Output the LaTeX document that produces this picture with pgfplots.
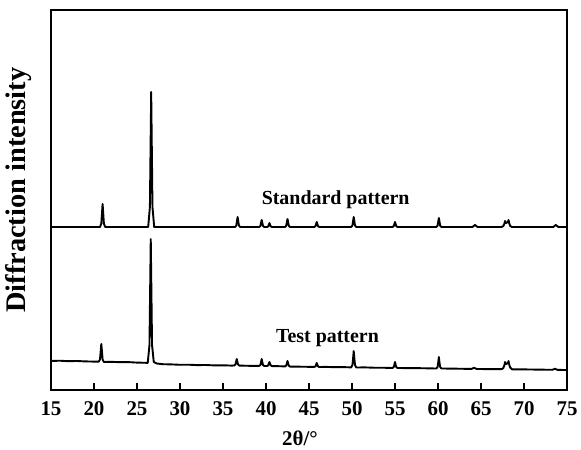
\documentclass[border=0pt]{standalone}
\usepackage{fontspec}
\setmainfont{Liberation Serif}
\usepackage{pgfplots}
\pgfplotsset{compat=1.18}

\pgfplotstableread{
x y
15 163
20.7 163
20.85 166.5
20.92 175.7
21.0 186
21.08 175.7
21.15 166.5
21.3 163
26.3 163
26.5 183
26.57 237
26.65 298
26.73 237
26.8 183
27.0 163
36.4 163
36.55 164.5
36.62 168.5
36.7 173
36.78 168.5
36.85 164.5
37.0 163
39.2 163
39.35 164
39.42 167
39.5 170
39.58 167
39.65 164
39.8 163
40.1 163
40.25 163.6
40.32 165
40.4 167
40.48 165
40.55 163.6
40.7 163
42.2 163
42.35 164.2
42.42 167.4
42.5 171
42.58 167.4
42.65 164.2
42.8 163
45.6 163
45.75 163.8
45.82 165.8
45.9 168
45.98 165.8
46.05 163.8
46.2 163
49.9 163
50.05 164.5
50.12 168.5
50.2 173
50.28 168.5
50.35 164.5
50.5 163
54.7 163
54.85 163.8
54.92 165.8
55.0 168
55.08 165.8
55.15 163.8
55.3 163
59.8 163
59.95 164.4
60.02 168
60.1 172
60.18 168
60.25 164.4
60.4 163
64.0 163
64.3 165
64.6 163
67.4 163
67.6 164
67.72 166.3
67.8 169
67.9 167
68.0 167.5
68.12 167.5
68.2 170
68.28 166.8
68.4 164
68.6 163
73.4 163
73.7 165
74.0 163
75 163
}\standard

\pgfplotstableread{
x y
15 29
16 29.3
17 28.8
18 29
19 28.6
20 28.4
20.55 28.3
20.7 30.6
20.77 37.9
20.85 46
20.93 37.9
21.0 30.6
21.15 28
22 28.2
23 27.8
24 27.9
25 27.4
26 27.2
26.25 27.1
26.45 45
26.52 95
26.6 151
26.68 95
26.75 45
26.95 28
27.3 26.5
28 25.8
29 25.6
30 25.2
31 25.3
32 24.9
33 25
34 24.6
35 24.7
36 24.4
36.3 24.5
36.45 25.5
36.52 28
36.6 31
36.68 28
36.75 25.5
36.9 24.4
38 24.2
39.2 24.1
39.35 25
39.42 27.6
39.5 31
39.58 27.6
39.65 25
39.8 24
40.1 24
40.25 24.6
40.32 26.2
40.4 28
40.48 26.2
40.55 24.6
40.7 23.9
41.5 23.8
42.2 23.6
42.35 24.4
42.42 26.5
42.5 29
42.58 26.5
42.65 24.4
42.8 23.4
44 23.3
45.6 23.1
45.75 23.6
45.82 25
45.9 27
45.98 25
46.05 23.6
46.2 23
47 23.1
48 22.8
49 22.9
49.9 22.6
50.05 25
50.12 31
50.2 39
50.28 31
50.35 25
50.5 22.5
51.5 22.6
52.5 22.3
53.5 22.3
54.7 22
54.85 22.9
54.92 25
55.0 28
55.08 25
55.15 22.9
55.3 22
56.5 21.9
58 21.8
59.8 21.5
59.95 23
60.02 27
60.1 33
60.18 27
60.25 23
60.4 21.5
61.5 21.4
63 21.2
63.9 21.1
64.2 22.2
64.5 21
66 20.9
67.4 20.8
67.6 22
67.72 24.8
67.8 28
67.9 26
68.0 26.4
68.12 26.5
68.2 29
68.28 25.5
68.4 22.5
68.6 20.7
70 20.6
71.5 20.4
73.3 20.2
73.6 21.2
73.9 20.1
75 20
}\testpat

\begin{document}
\begin{tikzpicture}
\begin{axis}[
  at={(0,0)}, anchor=south west,
  scale only axis,
  width=516bp, height=380bp,
  xmin=15, xmax=75, ymin=0, ymax=380,
  xtick={15,20,...,75},
  ytick=\empty,
  xtick pos=bottom,
  tick align=inside,
  major tick length=7bp,
  axis line style={line width=1.7bp},
  every tick/.style={line width=1.5bp, black},
  /pgf/number format/assume math mode=true,
  ticklabel style={font=\fontsize{21}{25}\selectfont\bfseries},
  xticklabel style={yshift=-8bp},
  xlabel={2θ/°},
  xlabel style={font=\fontsize{21}{25}\selectfont\bfseries,
    at={(axis description cs:0.4826,-0.126)}, anchor=center},
  ylabel={Diffraction intensity},
  ylabel style={font=\fontsize{28.5}{33}\selectfont\bfseries,
    at={(axis description cs:-0.062,0.526)}, anchor=center},
]
\addplot[black, line width=1.9bp, line join=round] table[x=x,y=y] {\standard};
\addplot[black, line width=1.9bp, line join=round] table[x=x,y=y] {\testpat};
\node[font=\fontsize{20}{24}\selectfont\bfseries] at (axis cs:48.1,190) {Standard pattern};
\node[font=\fontsize{20}{24}\selectfont\bfseries] at (axis cs:47.15,52) {Test pattern};
\end{axis}
\path[use as bounding box] (-51bp,-60bp) rectangle (530bp,390bp);
\end{tikzpicture}
\end{document}
